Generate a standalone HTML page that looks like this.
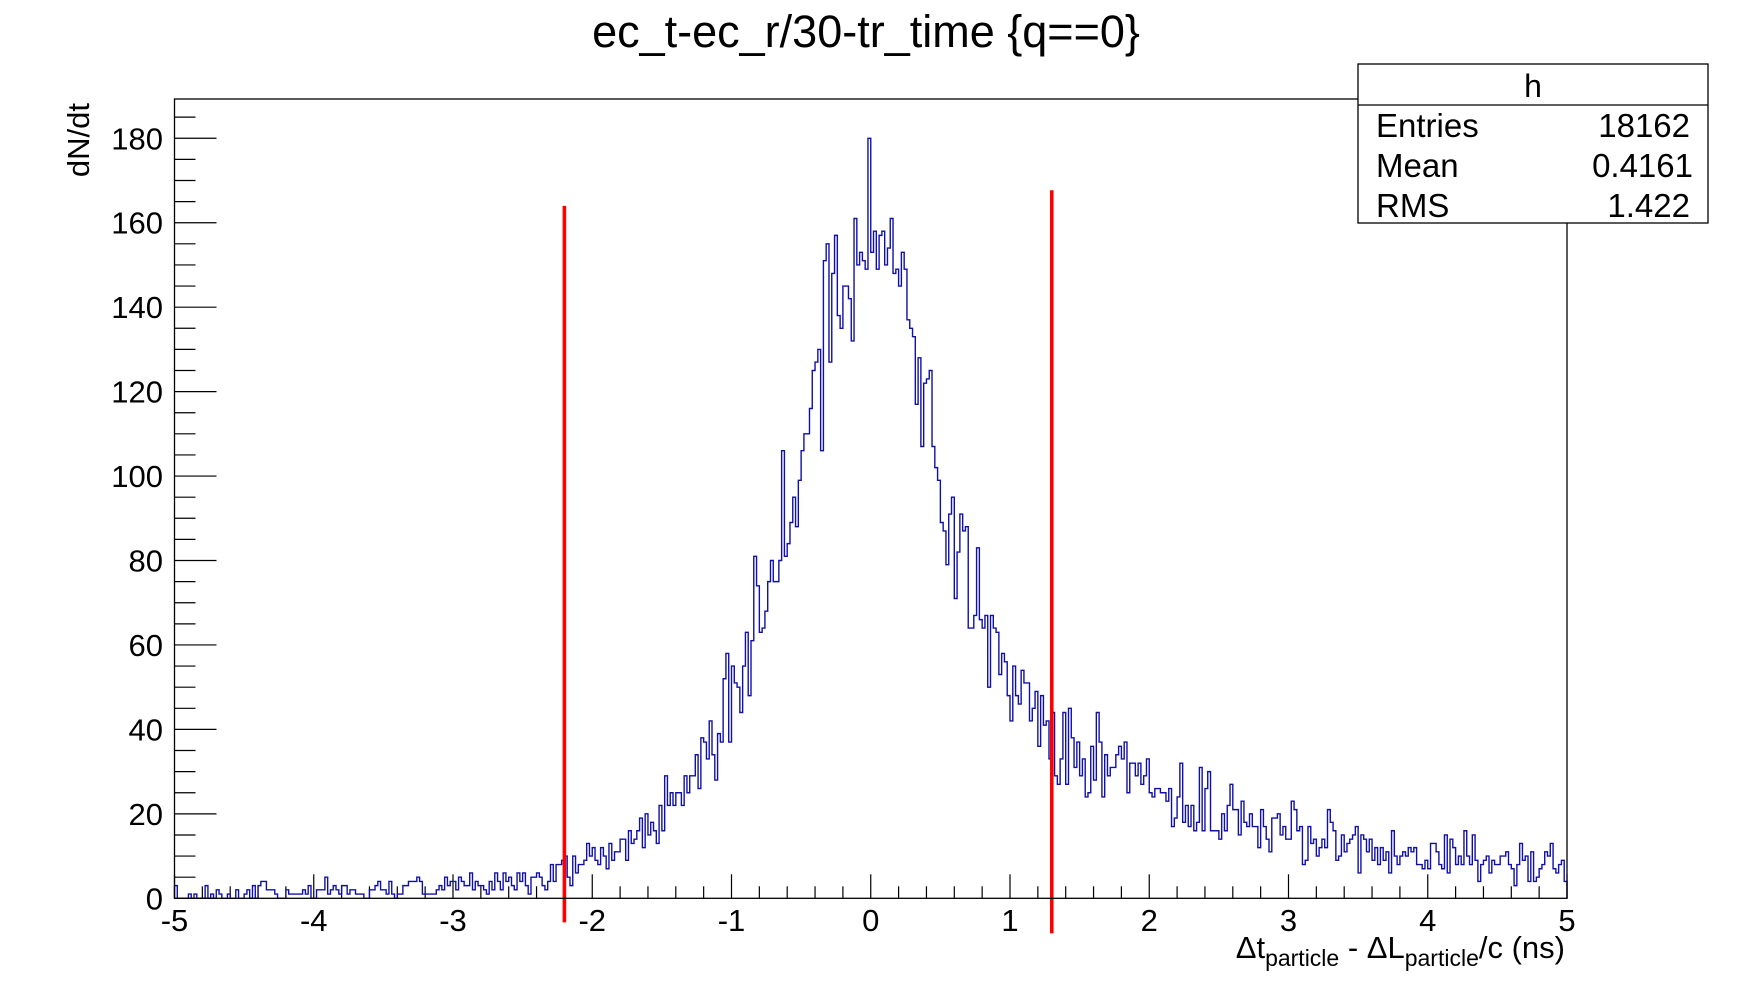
<!DOCTYPE html>
<html><head><meta charset="utf-8">
<style>
html,body{margin:0;padding:0;background:#fff;}
svg{display:block;font-family:"Liberation Sans",Arial,sans-serif;}
</style></head>
<body>
<svg id="chart" width="1741" height="998" viewBox="0 0 1741 998" xmlns="http://www.w3.org/2000/svg">
<rect x="0" y="0" width="1741" height="998" fill="#fff"/>
<text x="866" y="47" font-size="45" text-anchor="middle" fill="#000">ec_t-ec_r/30-tr_time {q==0}</text>
<g id="ticks"></g>
<g id="ylabels" font-size="31" text-anchor="end"></g>
<g id="xlabels" font-size="31" text-anchor="middle"></g>
<path id="hist" fill="none" stroke="#1010a8" stroke-width="1.4"/>
<g id="cuts"></g>
<rect x="174.5" y="99" width="1392.5" height="799.3" fill="none" stroke="#000" stroke-width="1.3"/>
<text transform="translate(89,103) rotate(-90)" font-size="31" text-anchor="end">dN/dt</text>
<text x="1565" y="958" font-size="31" text-anchor="end">Δt<tspan font-size="23" dy="8">particle</tspan><tspan dy="-8"> - ΔL</tspan><tspan font-size="23" dy="8">particle</tspan><tspan dy="-8">/c (ns)</tspan></text>
<g>
<rect x="1358" y="64" width="350" height="159" fill="#fff" stroke="#000" stroke-width="1.3"/>
<line x1="1358" y1="105" x2="1708" y2="105" stroke="#000" stroke-width="1.3"/>
<text x="1533" y="97" font-size="32" text-anchor="middle">h</text>
<text x="1376" y="137" font-size="33">Entries</text>
<text x="1690" y="137" font-size="33" text-anchor="end">18162</text>
<text x="1376" y="177" font-size="33">Mean</text>
<text x="1693" y="177" font-size="33" text-anchor="end">0.4161</text>
<text x="1376" y="217" font-size="33">RMS</text>
<text x="1690" y="217" font-size="33" text-anchor="end">1.422</text>
</g>
</svg>
<script>
const xMin = -5, xMax = 5, yMin = 0, yMax = 189.3;
const xTickLabels = [-5,-4,-3,-2,-1,0,1,2,3,4,5];
const yTickLabels = [0,20,40,60,80,100,120,140,160,180];
const cutPositions = [-2.2, 1.3];
const cutTops = [164, 167.7];
const cutBottoms = [-5.7, -8.3];
const countsA = [3,0,0,0,0,1,0,1,0,0,0,3,0,1,0,2,1,0,0,1,0,0,2,0,0,1,2,0,3,0,
3,4,4,2,2,2,1,0,0,0,2,1,1,1,1,1,2,1,3,0,0,2,2,2,5,1,2,3,2,1,
3,3,1,2,2,1,1,1,0,0,2,2,3,4,2,2,1,4,1,0,1,1,3,3,4,4,4,5,4,1,
1,1,1,1,2,3,2,5,3,4];
const countsB = [4,2,5,4,3,3,6,2,4,3,3,2,1,4,2,6,4,2,6,4,5,3,2,6,4,6,3,1,5,5,
6,5,3,2,4,8,4,8,8,9,10,5,3,10,6,8,8,9,13,10,12,9,8,12,10,7,13,9,11,11,
14,14,9,16,13,14,16,19,12,20,15,18,16,13,22,16,29,22,25,22,25,25,22,29,25,29,29,34,26,38,
37,33,42,34,28,39,37,52,58,37];
const countsC = [55,51,50,44,55,63,48,61,81,74,63,64,68,75,80,75,75,80,106,81,
84,89,95,88,99,106,110,110,116,125,127,130,106,151,155,127,148,157,138,135,
145,145,142,132,161,150,153,151,149,180];
const countsD = [153,158,149,157,158,150,154,161,148,149,145,153,149,137,135,133,117,128,107,122,
123,125,107,102,99,89,87,79,91,95,71,82,91,87,88,64,64,67,83,66,
64,67,50,67,64,63,53,58,56,48];
const countsE = [42,55,48,46,54,51,51,42,45,49,36,48,41,42,33,44,29,27,33,44,
27,45,38,31,37,29,33,24,25,36,28,44,37,24,34,29,31,31,34,36,
33,37,25,32,32,29,32,27,29,33,25,24,26,26,25,25,23,26,17,19,
24,32,18,22,17,22,16,18,31,16,26,30,16,16,16,14,20,16,22,27,
21,21,15,23,18,17,20,17,17,12,21,17,14,11,19,19,20,15,17,14];
const countsF = [14,23,21,16,17,8,9,17,13,14,10,12,14,12,21,18,16,9,10,15,
11,13,14,15,17,6,15,14,11,14,9,12,8,12,9,11,6,16,10,8,
10,11,10,12,11,12,8,8,7,9,7,13,13,11,8,7,15,6,14,12,
8,10,8,16,10,8,15,9,4,8,9,10,6,9,8,8,10,10,11,8,
7,3,8,13,9,10,4,11,4,5,7,8,11,10,13,7,6,8,9,4];
const counts = countsA.concat(countsB, countsC, countsD, countsE, countsF);

const PL = 174.5, PR = 1567, PT = 99, PB = 898.3;
function sx(v){ return PL + (v - xMin) / (xMax - xMin) * (PR - PL); }
function sy(v){ return PB - (v - yMin) / (yMax - yMin) * (PB - PT); }
const NS = 'http://www.w3.org/2000/svg';
function mk(tag, attrs, parent){
  const e = document.createElementNS(NS, tag);
  for (const k in attrs) e.setAttribute(k, attrs[k]);
  parent.appendChild(e);
  return e;
}
const ticks = document.getElementById('ticks');
for (let v = 0; v <= 185; v += 5) {
  const len = (v % 20 === 0) ? 42 : 21;
  const t = mk('line', {x1: PL, x2: PL + len, y1: sy(v), y2: sy(v), stroke: '#000', 'stroke-width': 1.2}, ticks);
  
  
}
for (let i = 0; i <= 50; i++) {
  const v = xMin + i * 0.2;
  const len = (i % 5 === 0) ? 24 : 12;
  const t = mk('line', {x1: sx(v), x2: sx(v), y1: PB, y2: PB - len, stroke: '#000', 'stroke-width': 1.2}, ticks);
  
  
}
const yl = document.getElementById('ylabels');
yTickLabels.forEach(v => {
  const t = mk('text', {x: 163, y: sy(v) + 11}, yl);
  t.textContent = v;
  
  
});
const xl = document.getElementById('xlabels');
xTickLabels.forEach(v => {
  const t = mk('text', {x: sx(v), y: 931}, xl);
  t.textContent = v;
  
  
});
const n = counts.length, bw = (xMax - xMin) / n;
let d = 'M' + sx(xMin) + ' ' + sy(0);
for (let i = 0; i < n; i++) {
  const x0 = sx(xMin + i * bw), x1 = sx(xMin + (i + 1) * bw), y = sy(counts[i]);
  d += ' L' + x0.toFixed(2) + ' ' + y.toFixed(2) + ' L' + x1.toFixed(2) + ' ' + y.toFixed(2);
}
d += ' L' + sx(xMax) + ' ' + sy(0);
document.getElementById('hist').setAttribute('d', d);
const cuts = document.getElementById('cuts');
cutPositions.forEach((c, i) => {
  const l = mk('line', {x1: sx(c), x2: sx(c), y1: sy(cutTops[i]), y2: sy(cutBottoms[i]), stroke: '#ff0000', 'stroke-width': 3.6}, cuts);
  
  
});
</script>
</body></html>
